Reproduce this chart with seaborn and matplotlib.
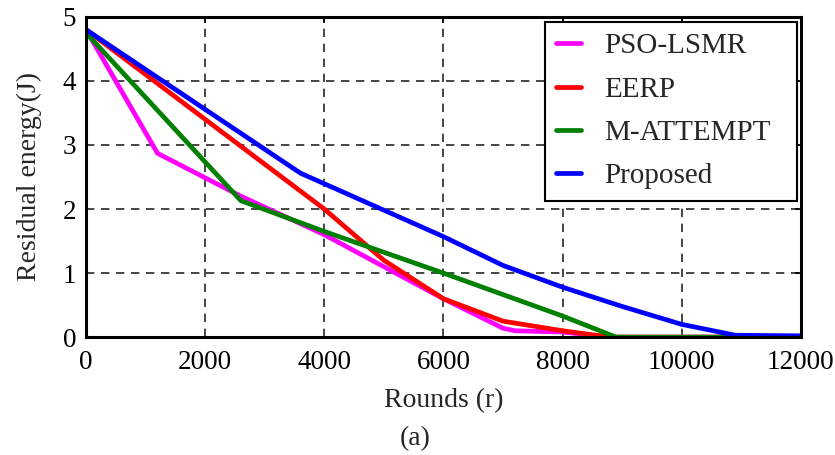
import numpy as np
import pandas as pd
import matplotlib
matplotlib.use("Agg")
import matplotlib.pyplot as plt
import seaborn as sns

# ---- data ----
methods = ["PSO-LSMR", "EERP", "M-ATTEMPT", "Proposed"]
pso_x = [0, 1200, 2600, 4000, 5000, 6000, 7000, 7200, 8000, 8800, 12000]
pso_y = [4.8, 2.87, 2.2, 1.6, 1.1, 0.6, 0.14, 0.1, 0.08, 0.0, 0.0]
eerp_x = [0, 4000, 5000, 6000, 7000, 8000, 8800, 12000]
eerp_y = [4.8, 2.0, 1.2, 0.6, 0.25, 0.1, 0.0, 0.0]
matt_x = [0, 2600, 4000, 6000, 8000, 8900, 12000]
matt_y = [4.75, 2.13, 1.65, 1.0, 0.33, 0.0, 0.0]
prop_x = [0, 3600, 6000, 7000, 8000, 9000, 10000, 10900, 12000]
prop_y = [4.8, 2.56, 1.57, 1.12, 0.78, 0.48, 0.2, 0.03, 0.02]
colors = ["#FF00FF", "#FF0000", "#008000", "#0000FF"]
x_ticks = [0, 2000, 4000, 6000, 8000, 10000, 12000]
y_ticks = [0, 1, 2, 3, 4, 5]

frames = []
for m, xs, ys in zip(methods, [pso_x, eerp_x, matt_x, prop_x], [pso_y, eerp_y, matt_y, prop_y]):
    frames.append(pd.DataFrame({"Rounds": xs, "Energy": ys, "Method": m}))
df = pd.concat(frames, ignore_index=True)

sns.set_style("white")
plt.rcParams["font.family"] = ["Liberation Serif", "DejaVu Serif"]

fig = plt.figure(figsize=(8.35, 4.55), dpi=100)
ax = fig.add_axes([0.103, 0.259, 0.856, 0.704])

sns.lineplot(data=df, x="Rounds", y="Energy", hue="Method", hue_order=methods,
             palette=colors, linewidth=3.4, ax=ax, sort=False, estimator=None,
             zorder=3)

ax.set_xlim(0, 12000)
ax.set_ylim(0, 5)
ax.set_xticks(x_ticks)
ax.set_yticks(y_ticks)
ax.tick_params(axis="both", labelsize=19.5, direction="in", length=4, width=1.2,
               top=True, right=True, colors="black")
ax.tick_params(axis="x", pad=9)
ax.tick_params(axis="y", pad=7)
ax.grid(True, color="black", linestyle=(0, (5, 4)), linewidth=1.2, alpha=0.85)
for s in ax.spines.values():
    s.set_linewidth(2.2)
    s.set_color("black")
    s.set_zorder(5)

ax.set_xlabel("Rounds (r)", fontsize=20, labelpad=10)
ax.set_ylabel("Residual energy(J)", fontsize=20, labelpad=15)

leg = ax.legend(loc="upper left", bbox_to_anchor=(0.642, 0.0, 0.3524, 0.984),
                mode="expand", fontsize=21,
                frameon=True, fancybox=False, handlelength=0.85, handletextpad=0.8,
                borderpad=0.38, labelspacing=0.58, borderaxespad=0.0)
leg.get_frame().set_edgecolor("black")
leg.get_frame().set_linewidth(1.5)
leg.get_frame().set_alpha(1.0)
for line in leg.get_lines():
    line.set_linewidth(3.4)

fig.text(0.497, 0.037, "(a)", ha="center", va="center", fontsize=20)

fig.savefig("out.png", dpi=100)
